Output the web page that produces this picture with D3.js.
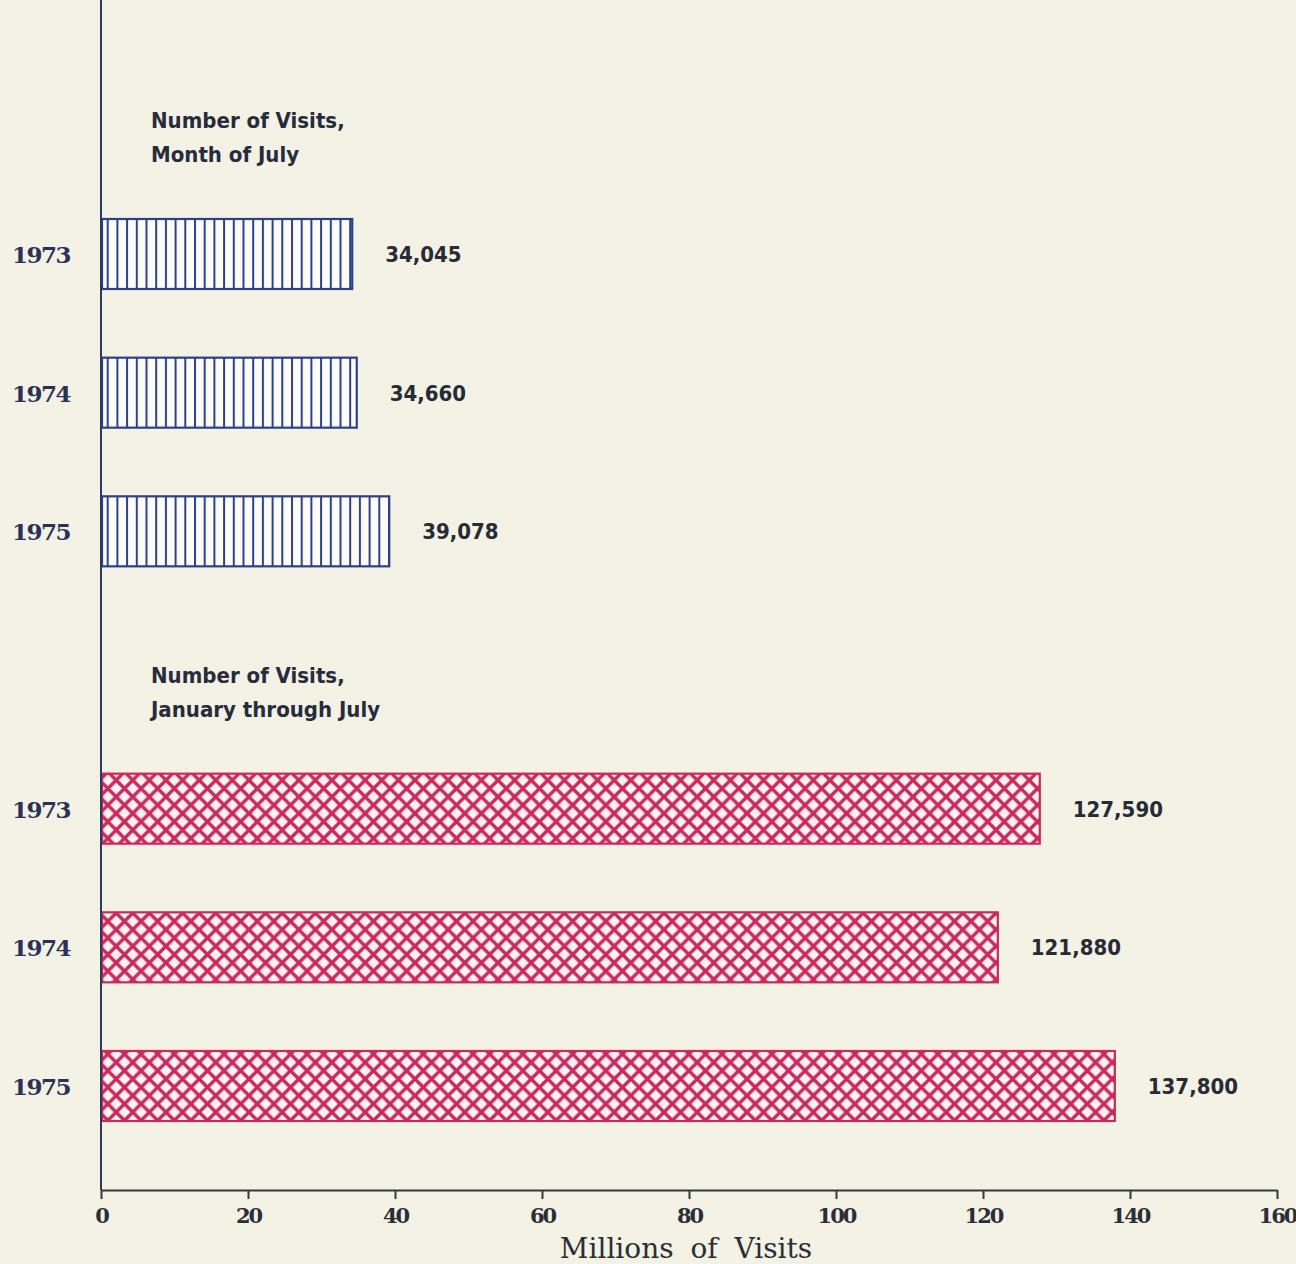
<!DOCTYPE html>
<html>
<head>
<meta charset="utf-8">
<script src="https://cdn.jsdelivr.net/npm/d3@7"></script>
<style>
  body { margin: 0; background: #f4f1e5; }
  svg { display: block; }
</style>
</head>
<body>
<svg width="1296" height="1264"></svg>
<script>
// data (thousands of visits, axis in millions)
var julyYears = ["1973", "1974", "1975"];
var julyValues = [34045, 34660, 39078];
var ytdYears = ["1973", "1974", "1975"];
var ytdValues = [127590, 121880, 137800];
var xTicks = [0, 20, 40, 60, 80, 100, 120, 140, 160];
var headings = [["Number of Visits,", "Month of July"], ["Number of Visits,", "January through July"]];

var rows = julyYears.map(function(y, i) { return {key: "jul" + y, year: y, value: julyValues[i], group: 0}; })
  .concat([{key: "gap"}])
  .concat(ytdYears.map(function(y, i) { return {key: "ytd" + y, year: y, value: ytdValues[i], group: 1}; }));
var bars = rows.filter(function(d) { return d.key != "gap"; });

var svg = d3.select("svg");
var x = d3.scaleLinear().domain([0, 160]).range([101, 1277]);
var y = d3.scalePoint().domain(rows.map(function(d) { return d.key; })).range([254, 1086]);
var barH = 70;
var axisY = 1190;
var sansFont = "'DejaVu Sans Condensed', 'Liberation Sans Narrow', sans-serif";
var serifFont = "'DejaVu Serif', serif";

var defs = svg.append("defs");
var stripes = defs.append("pattern").attr("id", "stripes")
  .attr("patternUnits", "userSpaceOnUse").attr("width", 9.7).attr("height", 10);
stripes.append("rect").attr("width", 9.7).attr("height", 10).attr("fill", "#fcfbf6");
stripes.append("line").attr("x1", 1).attr("x2", 1).attr("y1", 0).attr("y2", 10)
  .attr("stroke", "#2c4288").attr("stroke-width", 2);

var hatch = defs.append("pattern").attr("id", "hatch")
  .attr("patternUnits", "userSpaceOnUse").attr("width", 16.6).attr("height", 16.6);
hatch.append("rect").attr("width", 16.6).attr("height", 16.6).attr("fill", "#fdf1f3");
hatch.append("path").attr("d", "M0,0L16.6,16.6M16.6,0L0,16.6M-2,2L2,-2M14.6,18.6L18.6,14.6")
  .attr("stroke", "#c92a5c").attr("stroke-width", 3.4);

var barColor = ["#2c4288", "#c92a5c"];

svg.selectAll("rect.bar")
  .data(bars)
  .enter()
  .append("rect")
  .attr("class", "bar")
  .attr("x", x(0) + 1)
  .attr("y", function(d) { return y(d.key) - barH / 2; })
  .attr("width", function(d) { return x(d.value / 1000) - x(0); })
  .attr("height", barH)
  .attr("fill", function(d) { return d.group == 0 ? "url(#stripes)" : "url(#hatch)"; })
  .attr("stroke", function(d) { return barColor[d.group]; })
  .attr("stroke-width", 2.2);

svg.selectAll("text.value")
  .data(bars)
  .enter()
  .append("text")
  .attr("class", "value")
  .attr("x", function(d) { return x(d.value / 1000) + 34; })
  .attr("y", function(d) { return y(d.key) + 8; })
  .style("font-family", sansFont)
  .style("font-weight", "bold")
  .style("font-size", "22px")
  .style("fill", "#262b36")
  .text(function(d) { return d3.format(",")(d.value); });

svg.selectAll("text.year")
  .data(bars)
  .enter()
  .append("text")
  .attr("class", "year")
  .attr("x", 70)
  .attr("y", function(d) { return y(d.key) + 9; })
  .style("text-anchor", "end")
  .style("font-family", serifFont)
  .style("font-weight", "bold")
  .style("font-size", "23px")
  .style("letter-spacing", "-1.5px")
  .style("fill", "#2b3258")
  .text(function(d) { return d.year; });

// section headings
var headY = [128, 683];
headings.forEach(function(lines, i) {
  var t = svg.append("text")
    .attr("x", 151).attr("y", headY[i])
    .style("font-family", sansFont)
    .style("font-weight", "bold")
    .style("font-size", "22px")
    .style("fill", "#262c3c");
  lines.forEach(function(l, j) {
    t.append("tspan").attr("x", 151).attr("dy", j == 0 ? 0 : 34).text(l);
  });
});

// axes
svg.append("line")
  .attr("x1", x(0)).attr("x2", x(0)).attr("y1", 0).attr("y2", axisY)
  .attr("stroke", "#2b3a5e").attr("stroke-width", 2);

var xAxis = svg.append("g")
  .attr("transform", "translate(0," + axisY + ")")
  .call(d3.axisBottom(x).tickValues(xTicks).tickSize(9).tickPadding(9).tickSizeOuter(0));
xAxis.select(".domain").attr("stroke", "#333a40").attr("stroke-width", 2);
xAxis.selectAll(".tick line").attr("stroke", "#333a40").attr("stroke-width", 2);
xAxis.selectAll(".tick text")
  .style("font-family", serifFont)
  .style("font-weight", "bold")
  .style("font-size", "21px")
  .style("letter-spacing", "-2px")
  .style("fill", "#2a2e36");

svg.append("text")
  .attr("x", 686).attr("y", 1258)
  .style("text-anchor", "middle")
  .style("font-family", serifFont)
  .style("font-size", "28px")
  .style("word-spacing", "8px")
  .style("fill", "#2a2e36")
  .text("Millions of Visits");
</script>
</body>
</html>
